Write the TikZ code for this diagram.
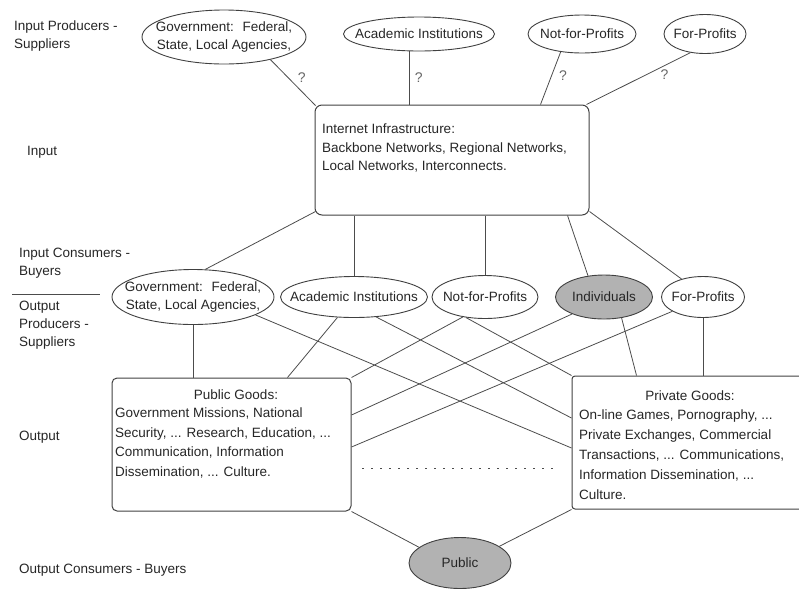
\documentclass[tikz,border=0pt]{standalone}
\usepackage{fontspec}
\setmainfont{Liberation Sans}
\usetikzlibrary{shapes.geometric,calc}

\begin{document}
\begin{tikzpicture}[x=1pt,y=-1pt,
  every node/.style={font=\fontsize{13.5}{18}\selectfont, text=black!85},
  ell/.style={ellipse, draw=black!75, line width=0.9pt, inner sep=0pt},
  box/.style={rectangle, draw=black!75, line width=1pt, rounded corners=5pt, inner sep=0pt},
  conn/.style={draw=black!70, line width=0.8pt},
  lbl/.style={anchor=north west, align=left, inner sep=0pt},
  qm/.style={font=\fontsize{14}{14}\selectfont, text=black!60, inner sep=1pt},
  shaded/.style={fill=black!30}
]
\useasboundingbox (0,0) rectangle (799,590);
\begin{scope}
\clip (0,0) rectangle (799,590);

% left labels
\node[lbl] (l1) at (14,21) {Input Producers -\\Suppliers};
\node[anchor=west, inner sep=0pt] (l2) at (27,152) {Input};
\node[lbl] (l3) at (19,248) {Input Consumers -\\Buyers};
\coordinate (s1) at (12,294);
\coordinate (s2) at (100,294);
\draw[conn] (s1) -- (s2);
\node[lbl] (l4) at (19,301) {Output\\Producers -\\Suppliers};
\node[anchor=west, inner sep=0pt] (l5) at (19,437) {Output};
\node[anchor=west, inner sep=0pt] (l6) at (19,570) {Output Consumers - Buyers};

% top ellipses
\node[ell, minimum width=164pt, minimum height=54pt] (tgov) at (224,37) {};
\node[align=center, inner sep=0pt] (tgovt) at (tgov) {Government:~ Federal,\\State, Local Agencies,};
\node[ell, minimum width=151pt, minimum height=34pt] (tacad) at (419,34) {};
\node[inner sep=0pt] (tacadt) at (tacad) {Academic Institutions};
\node[ell, minimum width=108pt, minimum height=38pt] (tnfp) at (582,34) {};
\node[inner sep=0pt] (tnfpt) at (tnfp) {Not-for-Profits};
\node[ell, minimum width=82pt, minimum height=39pt] (tfp) at (705,34) {};
\node[inner sep=0pt] (tfpt) at (tfp) {For-Profits};

% internet box
\node[box, rounded corners=7pt, minimum width=274pt, minimum height=110pt] (inet) at (452,160) {};
\node[lbl] (inett) at (322,124) {Internet Infrastructure:\\[0.5pt]Backbone Networks, Regional Networks,\\[0.5pt]Local Networks, Interconnects.};

% top connectors
\draw[conn] (tgov.-26) -- node[qm, pos=0.4, right=8pt]{?} ([xshift=1pt,yshift=-1pt]inet.north west);
\draw[conn] (tacad.-119) -- node[qm, pos=0.5, right=4pt]{?} (tacad.-119 |- inet.north);
\draw[conn] (tnfp.-140) -- node[qm, pos=0.45, right=6pt]{?} ([xshift=-49pt]inet.north east);
\draw[conn] (tfp.-128) -- node[qm, pos=0.25, below=3pt]{?} ([xshift=-3pt]inet.north east);

% middle ellipses
\node[ell, minimum width=162pt, minimum height=55pt] (gov2) at (193,297) {};
\node[align=center, inner sep=0pt] (gov2t) at (gov2) {Government:~ Federal,\\State, Local Agencies,};
\node[ell, minimum width=147pt, minimum height=41pt] (acad2) at (354,297) {};
\node[inner sep=0pt] (acad2t) at (acad2) {Academic Institutions};
\node[ell, minimum width=106pt, minimum height=43pt] (nfp2) at (485,297) {};
\node[inner sep=0pt] (nfp2t) at (nfp2) {Not-for-Profits};
\node[ell, shaded, minimum width=97pt, minimum height=44pt] (indiv) at (604,297) {};
\node[inner sep=0pt] (indivt) at (indiv) {Individuals};
\node[ell, minimum width=83pt, minimum height=41pt] (fp2) at (703,297) {};
\node[inner sep=0pt] (fp2t) at (fp2) {For-Profits};

% internet to middle
\draw[conn] ([xshift=1pt,yshift=4pt]inet.south west) -- (gov2.66);
\draw[conn] (acad2.north |- inet.south) -- (acad2.north);
\draw[conn] (nfp2.north |- inet.south) -- (nfp2.north);
\draw[conn] ([xshift=-22pt]inet.south east) -- (indiv.127);
\draw[conn] ([yshift=4pt]inet.south east) -- (fp2.140);

% output boxes
\node[box, minimum width=239pt, minimum height=133pt] (pg) at (231.5,444.5) {};
\node[inner sep=0pt] (pgt) at (236,395) {Public Goods:};
\node[lbl] (pgl) at (115,408) {Government Missions, National\\[1.5pt]Security, ... Research, Education, ...\\[1.5pt]Communication, Information\\[1.5pt]Dissemination, ... Culture.};

\node[box, rounded corners=3pt, minimum width=258pt, minimum height=133pt] (priv) at (701,442.5) {};
\node[inner sep=0pt] (privt) at (690,396) {Private Goods:};
\node[lbl] (privl) at (579,410) {On-line Games, Pornography, ...\\[2pt]Private Exchanges, Commercial\\[2pt]Transactions, ... Communications,\\[2pt]Information Dissemination, ...\\[2pt]Culture.};

% middle to output
\draw[conn] (gov2.south) -- (gov2.south |- pg.north);
\draw[conn] (acad2.-129) -- ([xshift=-64pt]pg.north east);
\draw[conn] (gov2.-16) -- ([yshift=-5.5pt]priv.west);
\draw[conn] (acad2.-42) -- ([yshift=24.5pt]priv.west);
\draw[conn] (nfp2.-133) -- (priv.north west);
\draw[conn] (pg.north east) -- (nfp2.-138);
\draw[conn] ([yshift=29.5pt]pg.east) -- (indiv.-152);
\draw[conn] ([yshift=-2.5pt]pg.east) -- (fp2.-155);
\draw[conn] (indiv.-50) -- ([xshift=65pt]priv.north west);
\draw[conn] (fp2.south) -- (fp2.south |- priv.north);

% dotted line
\coordinate (d1) at (362,468);
\coordinate (d2) at (555,468);
\draw[conn, line width=1pt, dash pattern=on 1.5pt off 7.5pt] (d1) -- (d2);

% public
\node[ell, shaded, minimum width=102pt, minimum height=51pt] (pub) at (460,563) {};
\node[inner sep=0pt] (pubt) at (pub) {Public};
\draw[conn] (pg.south east) -- (pub.159);
\draw[conn] (priv.south west) -- (pub.23);
\end{scope}
\end{tikzpicture}
\end{document}
